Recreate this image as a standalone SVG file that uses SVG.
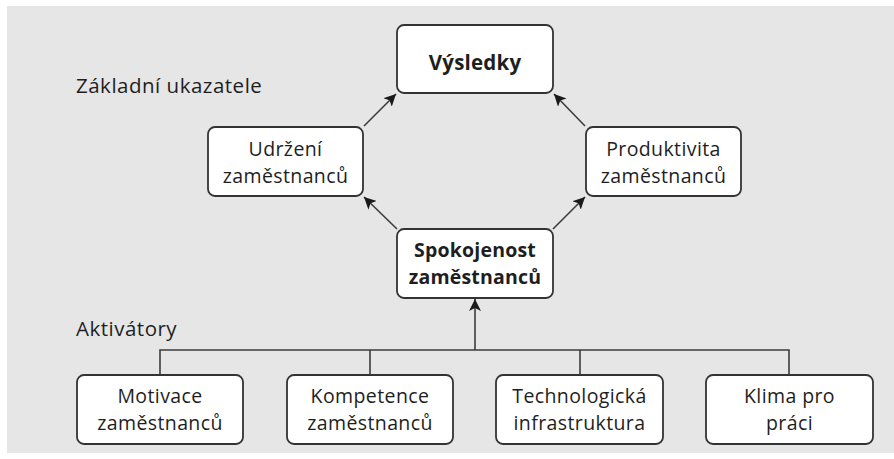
<svg xmlns="http://www.w3.org/2000/svg" width="894" height="459" viewBox="0 0 894 459">
  <defs>
    <marker id="arrow" viewBox="0 0 10 10" refX="10" refY="5" markerWidth="12" markerHeight="12" markerUnits="userSpaceOnUse" orient="auto">
      <path d="M0,0 L10,5 L0,10 L2.5,5 Z" fill="#1a1a1a"/>
    </marker>
    <style>
      .box { fill: #ffffff; stroke: #333333; stroke-width: 1.8; }
      .txt { font-family: "Open Sans", "Noto Sans", "Liberation Sans", sans-serif; font-size: 19.5px; letter-spacing: 0.4px; fill: #1e1e1e; text-anchor: middle; }
      .bold { font-weight: bold; letter-spacing: 0.2px; }
      .lbl { font-family: "Open Sans", "Noto Sans", "Liberation Sans", sans-serif; font-size: 20.5px; letter-spacing: 0.5px; fill: #1e1e1e; }
      .line { fill: none; stroke: #3c3c3c; stroke-width: 1.6; }
    </style>
  </defs>

  <rect x="7" y="6" width="887" height="447" fill="#e6e6e6"/>

  <text class="lbl" x="76" y="93">Základní ukazatele</text>
  <text class="lbl" x="76" y="336">Aktivátory</text>

  <g id="connectors">
    <line class="line" x1="364" y1="126" x2="396" y2="94" marker-end="url(#arrow)"/>
    <line class="line" x1="585" y1="126" x2="554" y2="94" marker-end="url(#arrow)"/>
    <line class="line" x1="397" y1="229" x2="364" y2="197" marker-end="url(#arrow)"/>
    <line class="line" x1="553" y1="229" x2="585" y2="197" marker-end="url(#arrow)"/>
    <polyline class="line" points="160,375 160,350 789,350 789,375"/>
    <line class="line" x1="370" y1="350" x2="370" y2="375"/>
    <line class="line" x1="580" y1="350" x2="580" y2="375"/>
    <line class="line" x1="475" y1="350" x2="475" y2="299" marker-end="url(#arrow)"/>
  </g>

  <g id="vysledky">
    <rect class="box" x="397" y="25" width="156" height="68" rx="7"/>
    <text class="txt bold" x="475" y="70" style="font-size:20.5px">Výsledky</text>
  </g>

  <g id="udrzeni">
    <rect class="box" x="208" y="127" width="155" height="69" rx="7"/>
    <text class="txt" x="285.5" y="156">Udržení</text>
    <text class="txt" x="285.5" y="183">zaměstnanců</text>
  </g>

  <g id="produktivita">
    <rect class="box" x="586" y="127" width="155" height="69" rx="7"/>
    <text class="txt" x="663.5" y="156">Produktivita</text>
    <text class="txt" x="663.5" y="183">zaměstnanců</text>
  </g>

  <g id="spokojenost">
    <rect class="box" x="397" y="229" width="156" height="69" rx="7"/>
    <text class="txt bold" x="475" y="257">Spokojenost</text>
    <text class="txt bold" x="475" y="284">zaměstnanců</text>
  </g>

  <g id="motivace">
    <rect class="box" x="77" y="375" width="166" height="69" rx="7"/>
    <text class="txt" x="160" y="403">Motivace</text>
    <text class="txt" x="160" y="430">zaměstnanců</text>
  </g>

  <g id="kompetence">
    <rect class="box" x="287" y="375" width="166" height="69" rx="7"/>
    <text class="txt" x="370" y="403">Kompetence</text>
    <text class="txt" x="370" y="430">zaměstnanců</text>
  </g>

  <g id="technologie">
    <rect class="box" x="496" y="375" width="167" height="69" rx="7"/>
    <text class="txt" x="579.5" y="403">Technologická</text>
    <text class="txt" x="579.5" y="430">infrastruktura</text>
  </g>

  <g id="klima">
    <rect class="box" x="706" y="375" width="167" height="69" rx="7"/>
    <text class="txt" x="789.5" y="403">Klima pro</text>
    <text class="txt" x="789.5" y="430">práci</text>
  </g>
</svg>
